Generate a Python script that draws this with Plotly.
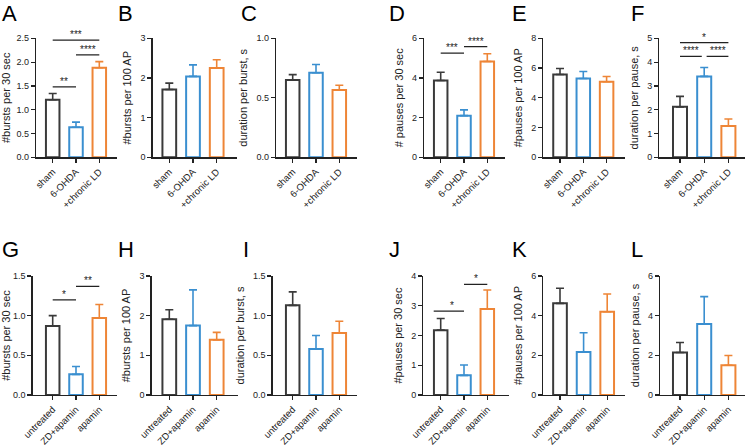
import plotly.graph_objects as go

W, H = 745, 446

# ---------------- data ----------------
groups_lesion = ["sham", "6-OHDA", "+chronic LD"]
groups_drug = ["untreated", "ZD+apamin", "apamin"]

# Top row (lesion / LD)
bursts30_mean = [1.21, 0.63, 1.88]
bursts30_sem = [0.13, 0.11, 0.13]
bursts100_mean = [1.71, 2.04, 2.25]
bursts100_sem = [0.16, 0.29, 0.21]
burstdur_mean = [0.65, 0.71, 0.565]
burstdur_sem = [0.045, 0.07, 0.04]
pauses30_mean = [3.87, 2.10, 4.83]
pauses30_sem = [0.42, 0.29, 0.39]
pauses100_mean = [5.57, 5.30, 5.08]
pauses100_sem = [0.40, 0.47, 0.35]
pausedur_mean = [2.12, 3.40, 1.32]
pausedur_sem = [0.44, 0.37, 0.29]

# Bottom row (drug treatment)
d_bursts30_mean = [0.87, 0.26, 0.97]
d_bursts30_sem = [0.13, 0.10, 0.17]
d_bursts100_mean = [1.91, 1.75, 1.39]
d_bursts100_sem = [0.24, 0.90, 0.19]
d_burstdur_mean = [1.13, 0.58, 0.78]
d_burstdur_sem = [0.17, 0.17, 0.15]
d_pauses30_mean = [2.18, 0.66, 2.89]
d_pauses30_sem = [0.39, 0.35, 0.64]
d_pauses100_mean = [4.62, 2.17, 4.20]
d_pauses100_sem = [0.76, 0.97, 0.89]
d_pausedur_mean = [2.14, 3.58, 1.50]
d_pausedur_sem = [0.51, 1.38, 0.49]

# significance brackets: (from group idx, to group idx, y, label)
sig_A = [(0, 1, 1.48, "**"), (1, 2, 2.15, "****"), (0, 2, 2.46, "***")]
sig_D = [(0, 1, 5.25, "***"), (1, 2, 5.58, "****")]
sig_F = [(0, 2, 4.82, "*"), (0, 0.9, 4.24, "****"), (1.1, 2, 4.24, "****")]
sig_G = [(0, 1, 1.20, "*"), (1, 2, 1.37, "**")]
sig_J = [(-0.3, 1, 2.82, "*"), (1, 2, 3.72, "*")]

COLORS = ["#3a3a3a", "#3a8fd0", "#ee8536"]
AX = "#222222"
FONT = "Arial, Liberation Sans, sans-serif"

# panel: letter, groups, mean, sem, ytitle, ymax, dtick, fmt, sig,
# geometry px: (y-axis x, first tick x, spacing, axis end x), row
panels = [
    ("A", groups_lesion, bursts30_mean, bursts30_sem, "#bursts per 30 sec", 2.5, 0.5, ".1f", sig_A, (36, 52.7, 23.3, 117), 0),
    ("B", groups_lesion, bursts100_mean, bursts100_sem, "#bursts per 100 AP", 3, 1, "d", [], (152.7, 169.3, 23.7, 236.7), 0),
    ("C", groups_lesion, burstdur_mean, burstdur_sem, "duration per burst, s", 1.0, 0.5, ".1f", [], (276, 292.7, 23.3, 357.3), 0),
    ("D", groups_lesion, pauses30_mean, pauses30_sem, "# pauses per 30 sec", 6, 2, "d", sig_D, (424, 440.7, 23.3, 505), 0),
    ("E", groups_lesion, pauses100_mean, pauses100_sem, "#pauses per 100 AP", 8, 2, "d", [], (543.3, 560, 23.3, 625), 0),
    ("F", groups_lesion, pausedur_mean, pausedur_sem, "duration per pause, s", 5, 1, "d", sig_F, (659.3, 680, 24.2, 745), 0),
    ("G", groups_drug, d_bursts30_mean, d_bursts30_sem, "#bursts per 30 sec", 1.5, 0.5, ".1f", sig_G, (32.7, 52.7, 23.3, 117), 1),
    ("H", groups_drug, d_bursts100_mean, d_bursts100_sem, "#bursts per 100 AP", 3, 1, "d", [], (151.7, 169.3, 23.7, 238), 1),
    ("I", groups_drug, d_burstdur_mean, d_burstdur_sem, "duration per burst, s", 1.5, 0.5, ".1f", [], (272.7, 292.7, 23.3, 357.3), 1),
    ("J", groups_drug, d_pauses30_mean, d_pauses30_sem, "#pauses per 30 sec", 4, 1, "d", sig_J, (423.3, 440.7, 23.3, 509), 1),
    ("K", groups_drug, d_pauses100_mean, d_pauses100_sem, "#pauses per 100 AP", 6, 2, "d", [], (543.3, 560, 23.6, 625), 1),
    ("L", groups_drug, d_pausedur_mean, d_pausedur_sem, "duration per pause, s", 6, 2, "d", [], (660, 680, 24.2, 745), 1),
]

ROWS = [(38.3, 157.3), (276, 395)]          # (top px, baseline px)
LETTER_POS = {"A": (0, 0), "B": (116, 0), "C": (239, 0), "D": (387, 0), "E": (510, 0), "F": (629, 0),
              "G": (0, 1), "H": (116, 1), "I": (241, 1), "J": (387, 1), "K": (510, 1), "L": (629, 1)}
LETTER_Y = [13.5, 250]

fig = go.Figure()
layout = {}
shapes = []
annotations = []

for i, (letter, groups, mean, sem, ytitle, ymax, dtick, fmt, sig, geo, row) in enumerate(panels):
    n = i + 1
    xa = "x" if n == 1 else f"x{n}"
    ya = "y" if n == 1 else f"y{n}"
    ax_x, t0, sp, end = geo
    top, base = ROWS[row]
    r0 = (ax_x - t0) / sp
    r1 = (end - t0) / sp
    for g, m, s, c in zip(groups, mean, sem, COLORS):
        fig.add_trace(go.Bar(
            x=[g], y=[m], width=0.58,
            marker=dict(color="white", line=dict(color=c, width=2)),
            error_y=dict(type="data", array=[s], arrayminus=[0], symmetric=False,
                         color=c, thickness=1.6, width=4),
            xaxis=xa, yaxis=ya, showlegend=False, hoverinfo="skip",
        ))
    ticks = []
    v = 0.0
    while v <= ymax + 1e-9:
        ticks.append(round(v, 3))
        v += dtick
    ticktext = [format(t, ".1f") if fmt == ".1f" else str(int(round(t))) for t in ticks]
    layout["xaxis" if n == 1 else f"xaxis{n}"] = dict(
        domain=[ax_x / W, min(end / W, 1.0)], anchor=ya, automargin=False,
        type="category", categoryorder="array", categoryarray=groups,
        range=[r0, r1], showline=True, linecolor=AX, linewidth=1.3,
        ticks="outside", ticklen=4, tickwidth=1.2, tickcolor=AX,
        tickangle=-45, tickfont=dict(size=9.5, color=AX, family=FONT),
        showgrid=False, zeroline=False, fixedrange=True,
    )
    layout["yaxis" if n == 1 else f"yaxis{n}"] = dict(
        domain=[1 - base / H, 1 - top / H], anchor=xa, automargin=False,
        range=[0, ymax], tickvals=ticks, ticktext=ticktext,
        showline=True, linecolor=AX, linewidth=1.3,
        ticks="outside", ticklen=4, tickwidth=1.2, tickcolor=AX,
        tickfont=dict(size=9, color=AX, family=FONT),
        title=dict(text=ytitle, font=dict(size=11, color=AX, family=FONT), standoff=6),
        showgrid=False, zeroline=False, fixedrange=True,
    )
    for (a, b, yv, lab) in sig:
        shapes.append(dict(type="line", xref=xa, yref=ya, x0=a, x1=b, y0=yv, y1=yv,
                           line=dict(color=AX, width=1.3)))
        annotations.append(dict(xref=xa, yref=ya, x=(max(a, 0) + b) / 2, y=yv, text=lab,
                                showarrow=False, yanchor="bottom", yshift=-2,
                                font=dict(size=10, color=AX, family=FONT)))
    lx, lrow = LETTER_POS[letter]
    annotations.append(dict(xref="paper", yref="paper", x=lx / W, y=1 - LETTER_Y[lrow] / H,
                            xanchor="left", yanchor="middle", text=letter, showarrow=False,
                            font=dict(size=22, color="#000000", family=FONT)))

fig.update_layout(
    template="none",
    width=W, height=H, margin=dict(l=0, r=0, t=0, b=0, autoexpand=False),
    paper_bgcolor="white", plot_bgcolor="white",
    barmode="overlay", shapes=shapes, annotations=annotations,
    font=dict(family=FONT, color=AX), **layout,
)

fig.write_html("out.html", config={"displayModeBar": False, "staticPlot": True},
               post_script="document.body.style.margin='0';document.body.style.overflow='hidden';")
